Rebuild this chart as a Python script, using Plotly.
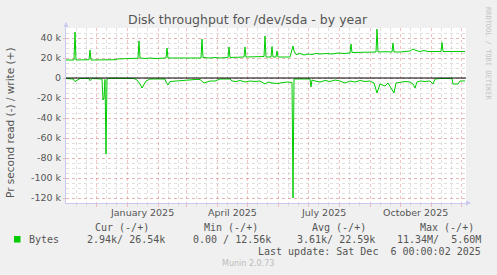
import pandas as pd
import plotly.graph_objects as go

# ---------------- data (days since 2024-11-01, values in kB/s) ----------------
start_date = "2024-11-01"
end_date = "2025-12-06"

write_day = [0, 8, 9, 10, 23, 24, 25, 34, 50, 51, 68, 72, 73, 74, 79, 84, 89, 94,
             100, 101, 102, 119, 135, 136, 137, 144, 149, 154, 162, 163, 164,
             178, 179, 180, 189, 198, 199, 200, 205, 206, 207, 210, 211, 212,
             224, 226, 227, 228, 230, 234, 238, 242, 246, 250, 254, 260, 266,
             272, 278, 284, 285, 286, 292, 298, 304, 310, 311, 312, 319, 326,
             327, 328, 334, 340, 344, 347, 350, 354, 358, 362, 368, 375, 376,
             377, 384, 392, 399]
write_k = [18, 18, 46, 18, 18.3, 28, 18, 18, 18.3, 19, 19.3, 19.8, 37, 20, 19.5, 20, 19.5, 19.8,
           20, 30, 20, 20, 20, 39, 20.5, 20, 20.5, 20, 20.5, 31, 20.5,
           21, 31, 21, 21, 21.5, 42, 21, 21, 31.5, 21, 21, 27, 21,
           21, 28, 32, 27, 23.5, 24.5, 23, 24, 23.5, 24.5, 24, 24.5, 24,
           25, 24.5, 25, 34, 25.5, 25.5, 26, 25.5, 26, 49, 26, 26.3, 26,
           35, 26, 26, 26.5, 27, 29, 27.5, 26.5, 27.5, 26.5, 26.5, 26.5, 35.5,
           26.5, 26.5, 26.5, 26.54]

read_day = [0, 7, 9, 11, 14, 23, 24, 26, 35, 36, 37, 38, 39, 40, 41, 43, 54, 62,
            68, 71, 74, 76, 78, 80, 84, 89, 94, 99, 100, 102, 104, 109, 119, 129,
            134, 136, 138, 141, 144, 149, 154, 164, 166, 170, 174, 179, 184, 189,
            194, 199, 202, 206, 212, 217, 222, 226, 227, 228, 234, 239, 244, 245,
            246, 249, 254, 259, 264, 269, 274, 279, 284, 289, 294, 299, 304, 308,
            311, 314, 319, 322, 325, 328, 330, 334, 339, 344, 347, 349, 351, 354,
            359, 364, 367, 369, 374, 386, 387, 392, 394, 399]
read_k = [0.5, 1, 3.5, 2, 0.5, 0.5, 2.7, 0.5, 0.5, 1, 22, 20, 1.5, 76, 1, 0.3, 0.3, 0.5,
          0.5, 2, 6, 10, 6, 3, 1, 1, 1.5, 1, 4, 7, 3.5, 3, 2.7, 1.5,
          1.5, 3, 5, 4, 3, 3, 1, 1, 3, 3.5, 2.5, 4, 3, 3.5,
          3, 6, 4, 5, 5.5, 4.5, 4, 4.5, 120, 1, 1, 0.5, 1, 9,
          2, 3, 4, 2.5, 3.5, 2, 3, 5, 3, 4, 2.5, 3.5, 3, 5,
          15, 6, 8, 5, 10, 15, 5, 4, 3.5, 4, 6, 10, 4, 3,
          3.5, 3, 6, 1, 0.5, 0.5, 6, 6, 3, 2.94]

y_tick_vals = [-120000, -100000, -80000, -60000, -40000, -20000, 0, 20000, 40000]
y_tick_text = ["-120 k", "-100 k", "-80 k", "-60 k", "-40 k", "-20 k", "0", "20 k", "40 k"]

x_labels = ["January 2025", "April 2025", "July 2025", "October 2025"]
x_label_dates = ["2025-01-16", "2025-04-16", "2025-07-16", "2025-10-16"]

legend_header = ["Cur (-/+)", "Min (-/+)", "Avg (-/+)", "Max (-/+)"]
legend_values = ["2.94k/ 26.54k", "0.00 / 12.56k", "3.61k/ 22.59k", "11.34M/  5.60M"]
series_name = "Bytes"
last_update = "Last update: Sat Dec  6 00:00:02 2025"
title = "Disk throughput for /dev/sda - by year"
y_title = "Pr second read (-) / write (+)"

# ---------------- figure ----------------
W, H = 497, 275
L, R, T, B = 66, 31, 28, 72
PW, PH = W - L - R, H - T - B

def px(x):
    return (x - L) / PW

def py(y):
    return (H - B - y) / PH

t0 = pd.Timestamp(start_date)
write_x = t0 + pd.to_timedelta(write_day, unit="D")
read_x = t0 + pd.to_timedelta(read_day, unit="D")

GREEN = "#00CC00"
fig = go.Figure()
fig.add_trace(go.Scatter(x=write_x, y=[v * 1000 for v in write_k], mode="lines",
                         line=dict(color=GREEN, width=1), hoverinfo="skip"))
fig.add_trace(go.Scatter(x=read_x, y=[-v * 1000 for v in read_k], mode="lines",
                         line=dict(color=GREEN, width=1), hoverinfo="skip"))

month_starts = pd.date_range("2024-12-01", "2025-12-01", freq="MS")
minor_days = []
for m in pd.date_range("2024-11-01", "2025-11-01", freq="MS"):
    minor_days += [m + pd.Timedelta(days=10), m + pd.Timedelta(days=20)]

MAJ = "rgba(235,140,140,0.55)"
MIN = "rgba(185,185,185,0.45)"
AXIS = "#C8C8F0"
TXT = "#555555"

fig.update_layout(
    width=W, height=H, margin=dict(l=L, r=R, t=T, b=B),
    paper_bgcolor="#F0F0F0", plot_bgcolor="#FFFFFF",
    showlegend=False, font=dict(family="DejaVu Sans", color=TXT, size=10),
    xaxis=dict(type="date", range=[pd.Timestamp(start_date), pd.Timestamp(end_date)],
               tickmode="array", tickvals=list(month_starts), ticktext=[""] * len(month_starts),
               showgrid=True, gridcolor=MAJ, griddash="dot", gridwidth=1,
               ticks="outside", ticklen=3, tickcolor=MAJ,
               minor=dict(tickmode="array", tickvals=minor_days, showgrid=True,
                          gridcolor=MIN, griddash="dot", ticks="outside", ticklen=2, tickcolor=MIN),
               showline=True, linecolor=AXIS, linewidth=1, zeroline=False, fixedrange=True),
    yaxis=dict(range=[-125000, 50000], tickmode="array", tickvals=y_tick_vals, ticktext=y_tick_text,
               tickfont=dict(size=9.5, color=TXT), ticks="outside", ticklen=2, tickcolor=MAJ,
               showgrid=True, gridcolor=MAJ, griddash="dot", gridwidth=1,
               minor=dict(dtick=5000, showgrid=True, gridcolor=MIN, griddash="dot"),
               showline=True, linecolor=AXIS, linewidth=1,
               zeroline=False, fixedrange=True),
)

ann = []
# title
ann.append(dict(text=title, x=px(248), y=py(20), xref="paper", yref="paper",
                showarrow=False, font=dict(size=12.5, color=TXT), xanchor="center", yanchor="middle"))
# y title
ann.append(dict(text=y_title, x=px(10), y=py(123), xref="paper", yref="paper", textangle=-90,
                showarrow=False, font=dict(size=10.5, color=TXT), xanchor="center", yanchor="middle"))
# rrdtool credit
ann.append(dict(text="RRDTOOL / TOBI OETIKER", x=px(488), y=py(5), xref="paper", yref="paper",
                textangle=90, showarrow=False, font=dict(size=7, color="#C4C4C4", family="DejaVu Sans Mono"),
                xanchor="center", yanchor="top"))
# x labels
for lab, d in zip(x_labels, x_label_dates):
    ann.append(dict(text=lab, x=d, y=py(212), xref="x", yref="paper", showarrow=False,
                    font=dict(size=9.5, color=TXT), xanchor="center", yanchor="middle"))
# legend header & values
MONO = "DejaVu Sans Mono"
head_right = [150.7, 260, 368.3, 476]
val_right = [166.7, 272.7, 377.3, 482.7]
for h, xr in zip(legend_header, head_right):
    ann.append(dict(text=h, x=px(xr), y=py(227.5), xref="paper", yref="paper", showarrow=False,
                    font=dict(size=10, color=TXT, family=MONO), xanchor="right", yanchor="middle"))
for v, xr in zip(legend_values, val_right):
    ann.append(dict(text=v.replace(" ", "&nbsp;"), x=px(xr), y=py(239.5), xref="paper", yref="paper",
                    showarrow=False, font=dict(size=10, color=TXT, family=MONO),
                    xanchor="right", yanchor="middle"))
ann.append(dict(text=series_name, x=px(26.5), y=py(239.5), xref="paper", yref="paper", showarrow=False,
                font=dict(size=10, color=TXT, family=MONO), xanchor="left", yanchor="middle"))
ann.append(dict(text=last_update.replace(" ", "&nbsp;"), x=px(482.7), y=py(251.7), xref="paper",
                yref="paper", showarrow=False, font=dict(size=10, color=TXT, family=MONO),
                xanchor="right", yanchor="middle"))
ann.append(dict(text="Munin 2.0.73", x=px(248), y=py(263.5), xref="paper", yref="paper", showarrow=False,
                font=dict(size=8, color="#BBBBBB"), xanchor="center", yanchor="middle"))
# axis arrows
ann.append(dict(x=px(471), y=py(203), ax=-6, ay=0, xref="paper", yref="paper",
                text="", showarrow=True, arrowhead=2, arrowsize=1, arrowwidth=1, arrowcolor=AXIS))
ann.append(dict(x=px(66), y=py(22), ax=0, ay=7, xref="paper", yref="paper",
                text="", showarrow=True, arrowhead=2, arrowsize=1, arrowwidth=1, arrowcolor=AXIS))
fig.update_layout(annotations=ann)

# zero rule drawn above the data, as in rrdtool
fig.add_shape(type="line", xref="paper", yref="y", x0=0, x1=1, y0=0, y1=0,
              line=dict(color="#000000", width=1), layer="above")
# legend colour box
fig.add_shape(type="rect", xref="paper", yref="paper", x0=px(14), x1=px(20.5), y0=py(242.5), y1=py(236),
              fillcolor=GREEN, line=dict(width=0))

fig.write_html("out.html")
